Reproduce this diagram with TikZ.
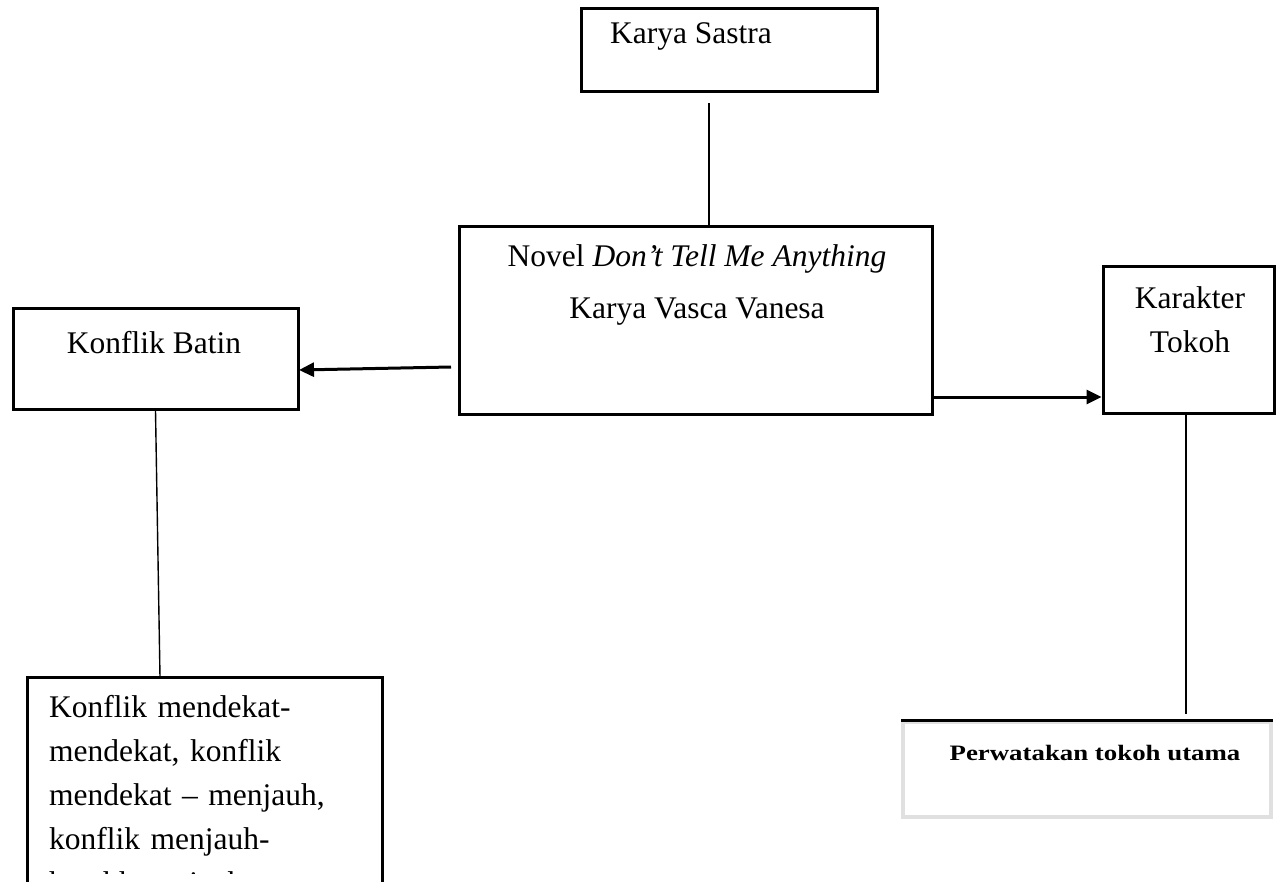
\documentclass[tikz,border=0pt]{standalone}
\usepackage{fontspec}
\setmainfont{Liberation Serif}
\usetikzlibrary{arrows.meta}
\tikzset{
  box/.style={draw, line width=3pt, rectangle, inner sep=0pt},
  lbl/.style={font=\fontsize{31.5}{44}\selectfont, inner sep=0pt, align=center},
  conn/.style={line width=2.4pt},
  arr/.style={line width=3pt, -{Triangle[length=15pt,width=14pt]}},
}
\begin{document}
\begin{tikzpicture}[x=1pt,y=-1pt]
\useasboundingbox (0,0) rectangle (1276,881);
\clip (0,0) rectangle (1276,881);
\fill[white] (0,0) rectangle (1276,881);
% boxes
\node[box, minimum width=296pt, minimum height=83pt] (ks) at (729,49.5) {};
\node[lbl] (kst) at (691,36) {Karya Sastra};
\node[box, minimum width=473pt, minimum height=188pt] (nov) at (695.5,320) {};
\node[lbl] (nov1) at (697,259) {Novel \textit{Don’t Tell Me Anything}};
\node[lbl] (nov2) at (697,312) {Karya Vasca Vanesa};
\node[box, minimum width=285pt, minimum height=101pt] (kb) at (155.5,358.5) {};
\node[lbl] (kbt) at (154,343) {Konflik Batin};
\node[box, minimum width=171pt, minimum height=147pt] (kt) at (1188.5,339.5) {};
\node[lbl] (ktt) at (1190,320) {Karakter\\Tokoh};
% bottom left box (continues below the page)
\node[box, minimum width=355pt, minimum height=260pt] (bl) at (204.5,807) {};
\begin{scope}
\clip (30,680) rectangle (380,873);
\node[lbl, align=left, anchor=north west, text width=335pt] (blt) at (49,695)
 {Konflik mendekat-\\mendekat, konflik\\mendekat – menjauh,\\konflik menjauh-\\hambhmenjauh};
\end{scope}
% bottom right box
\node[draw=black!12, line width=4pt, minimum width=368pt, minimum height=95pt, inner sep=0pt] (br) at (1087,769.5) {};
\draw[line width=3pt] (br.north west) -- (br.north east);
\node[font=\bfseries\fontsize{22}{24}\selectfont, inner sep=0pt, xscale=1.22] (brt) at (1095,753) {Perwatakan tokoh utama};
% connectors
\coordinate (t1) at (709,103);
\draw[conn] (t1) -- (t1 |- nov.north);
\coordinate (a1) at (451,367);
\coordinate (a1e) at (299,370);
\draw[arr] (a1) -- (a1e);
\coordinate (r1) at (932,397);
\draw[arr] (r1) -- (r1 -| kt.west);
\coordinate (lv) at (160,677);
\draw[line width=1.4pt] (kb.south) -- (lv);
\coordinate (rv1) at (1186,413);
\coordinate (rv2) at (1186,714);
\draw[conn] (rv1) -- (rv2);
\end{tikzpicture}
\end{document}
